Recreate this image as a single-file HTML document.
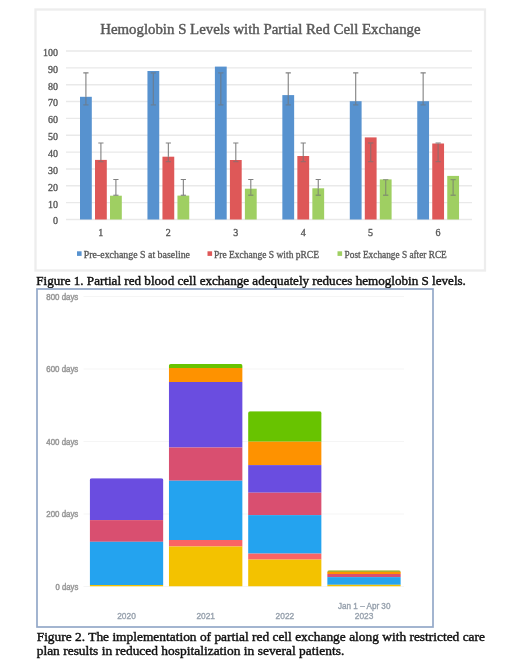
<!DOCTYPE html>
<html><head><meta charset="utf-8"><style>
html,body{margin:0;padding:0;background:#fff;}
body{width:520px;height:669px;overflow:hidden;font-family:"Liberation Serif",serif;}
svg{display:block;will-change:transform;}
</style></head><body>
<svg width="520" height="669" viewBox="0 0 520 669">
<rect x="35.5" y="9.5" width="449.5" height="261" fill="#fff" stroke="#ededed" stroke-width="2.3"/>
<text x="100.2" y="33.5" font-family="Liberation Serif" font-size="15" fill="#595959" stroke="#595959" stroke-width="0.45" textLength="320.4" lengthAdjust="spacingAndGlyphs">Hemoglobin S Levels with Partial Red Cell Exchange</text>
<line x1="66" x2="472" y1="219.5" y2="219.5" stroke="#e9e9e9" stroke-width="1.4"/>
<text x="58.1" y="224.4" font-family="Liberation Serif" font-size="10" fill="#595959" stroke="#595959" stroke-width="0.35" text-anchor="end">0</text>
<line x1="66" x2="472" y1="202.65" y2="202.65" stroke="#e9e9e9" stroke-width="1.4"/>
<text x="58.1" y="207.55" font-family="Liberation Serif" font-size="10" fill="#595959" stroke="#595959" stroke-width="0.35" text-anchor="end">10</text>
<line x1="66" x2="472" y1="185.8" y2="185.8" stroke="#e9e9e9" stroke-width="1.4"/>
<text x="58.1" y="190.7" font-family="Liberation Serif" font-size="10" fill="#595959" stroke="#595959" stroke-width="0.35" text-anchor="end">20</text>
<line x1="66" x2="472" y1="168.95" y2="168.95" stroke="#e9e9e9" stroke-width="1.4"/>
<text x="58.1" y="173.85" font-family="Liberation Serif" font-size="10" fill="#595959" stroke="#595959" stroke-width="0.35" text-anchor="end">30</text>
<line x1="66" x2="472" y1="152.1" y2="152.1" stroke="#e9e9e9" stroke-width="1.4"/>
<text x="58.1" y="157" font-family="Liberation Serif" font-size="10" fill="#595959" stroke="#595959" stroke-width="0.35" text-anchor="end">40</text>
<line x1="66" x2="472" y1="135.25" y2="135.25" stroke="#e9e9e9" stroke-width="1.4"/>
<text x="58.1" y="140.15" font-family="Liberation Serif" font-size="10" fill="#595959" stroke="#595959" stroke-width="0.35" text-anchor="end">50</text>
<line x1="66" x2="472" y1="118.4" y2="118.4" stroke="#e9e9e9" stroke-width="1.4"/>
<text x="58.1" y="123.3" font-family="Liberation Serif" font-size="10" fill="#595959" stroke="#595959" stroke-width="0.35" text-anchor="end">60</text>
<line x1="66" x2="472" y1="101.55" y2="101.55" stroke="#e9e9e9" stroke-width="1.4"/>
<text x="58.1" y="106.45" font-family="Liberation Serif" font-size="10" fill="#595959" stroke="#595959" stroke-width="0.35" text-anchor="end">70</text>
<line x1="66" x2="472" y1="84.7" y2="84.7" stroke="#e9e9e9" stroke-width="1.4"/>
<text x="58.1" y="89.6" font-family="Liberation Serif" font-size="10" fill="#595959" stroke="#595959" stroke-width="0.35" text-anchor="end">80</text>
<line x1="66" x2="472" y1="67.85" y2="67.85" stroke="#e9e9e9" stroke-width="1.4"/>
<text x="58.1" y="72.75" font-family="Liberation Serif" font-size="10" fill="#595959" stroke="#595959" stroke-width="0.35" text-anchor="end">90</text>
<line x1="66" x2="472" y1="51" y2="51" stroke="#e9e9e9" stroke-width="1.4"/>
<text x="58.1" y="55.9" font-family="Liberation Serif" font-size="10" fill="#595959" stroke="#595959" stroke-width="0.35" text-anchor="end">100</text>
<rect x="80" y="96.8" width="11.8" height="122.7" fill="#5792cf"/>
<rect x="95" y="159.9" width="11.8" height="59.6" fill="#de5858"/>
<rect x="110" y="195.7" width="11.8" height="23.8" fill="#9fcf62"/>
<rect x="147.45" y="71" width="11.8" height="148.5" fill="#5792cf"/>
<rect x="162.45" y="156.7" width="11.8" height="62.8" fill="#de5858"/>
<rect x="177.45" y="195.6" width="11.8" height="23.9" fill="#9fcf62"/>
<rect x="214.9" y="66.6" width="11.8" height="152.9" fill="#5792cf"/>
<rect x="229.9" y="160" width="11.8" height="59.5" fill="#de5858"/>
<rect x="244.9" y="188.7" width="11.8" height="30.8" fill="#9fcf62"/>
<rect x="282.35" y="95.1" width="11.8" height="124.4" fill="#5792cf"/>
<rect x="297.35" y="156" width="11.8" height="63.5" fill="#de5858"/>
<rect x="312.35" y="188.3" width="11.8" height="31.2" fill="#9fcf62"/>
<rect x="349.8" y="101.2" width="11.8" height="118.3" fill="#5792cf"/>
<rect x="364.8" y="137.4" width="11.8" height="82.1" fill="#de5858"/>
<rect x="379.8" y="179.4" width="11.8" height="40.1" fill="#9fcf62"/>
<rect x="417.25" y="101.2" width="11.8" height="118.3" fill="#5792cf"/>
<rect x="432.25" y="143.5" width="11.8" height="76" fill="#de5858"/>
<rect x="447.25" y="175.9" width="11.8" height="43.6" fill="#9fcf62"/>
<path d="M85.9 72.91V96.8M83.3 72.91H88.5" stroke="#737373" stroke-width="1.1" fill="none" opacity="0.9"/>
<path d="M85.9 96.8V104.92M83.3 104.92H88.5" stroke="#737373" stroke-width="1.3" fill="none" opacity="0.6"/>
<path d="M100.9 143V159.9M98.3 143H103.5" stroke="#737373" stroke-width="1.1" fill="none" opacity="0.9"/>
<path d="M100.9 159.9V161.54M98.3 161.54H103.5" stroke="#737373" stroke-width="1.3" fill="none" opacity="0.6"/>
<path d="M115.9 179.57V195.24M113.3 179.57H118.5" stroke="#737373" stroke-width="1.1" fill="none" opacity="0.9"/>
<path d="M113.3 195.24H118.5" stroke="#737373" stroke-width="1.1" fill="none" opacity="0.9"/>
<path d="M153.35 72.91V104.92M150.75 72.91H155.95M150.75 104.92H155.95" stroke="#737373" stroke-width="1.3" fill="none" opacity="0.6"/>
<path d="M168.35 143V156.7M165.75 143H170.95" stroke="#737373" stroke-width="1.1" fill="none" opacity="0.9"/>
<path d="M168.35 156.7V161.54M165.75 161.54H170.95" stroke="#737373" stroke-width="1.3" fill="none" opacity="0.6"/>
<path d="M183.35 179.57V195.24M180.75 179.57H185.95" stroke="#737373" stroke-width="1.1" fill="none" opacity="0.9"/>
<path d="M180.75 195.24H185.95" stroke="#737373" stroke-width="1.1" fill="none" opacity="0.9"/>
<path d="M220.8 72.91V104.92M218.2 72.91H223.4M218.2 104.92H223.4" stroke="#737373" stroke-width="1.3" fill="none" opacity="0.6"/>
<path d="M235.8 143V160M233.2 143H238.4" stroke="#737373" stroke-width="1.1" fill="none" opacity="0.9"/>
<path d="M235.8 160V161.54M233.2 161.54H238.4" stroke="#737373" stroke-width="1.3" fill="none" opacity="0.6"/>
<path d="M250.8 179.57V188.7M248.2 179.57H253.4" stroke="#737373" stroke-width="1.1" fill="none" opacity="0.9"/>
<path d="M250.8 188.7V195.24M248.2 195.24H253.4" stroke="#737373" stroke-width="1.3" fill="none" opacity="0.6"/>
<path d="M288.25 72.91V95.1M285.65 72.91H290.85" stroke="#737373" stroke-width="1.1" fill="none" opacity="0.9"/>
<path d="M288.25 95.1V104.92M285.65 104.92H290.85" stroke="#737373" stroke-width="1.3" fill="none" opacity="0.6"/>
<path d="M303.25 143V156M300.65 143H305.85" stroke="#737373" stroke-width="1.1" fill="none" opacity="0.9"/>
<path d="M303.25 156V161.54M300.65 161.54H305.85" stroke="#737373" stroke-width="1.3" fill="none" opacity="0.6"/>
<path d="M318.25 179.57V188.3M315.65 179.57H320.85" stroke="#737373" stroke-width="1.1" fill="none" opacity="0.9"/>
<path d="M318.25 188.3V195.24M315.65 195.24H320.85" stroke="#737373" stroke-width="1.3" fill="none" opacity="0.6"/>
<path d="M355.7 72.91V101.2M353.1 72.91H358.3" stroke="#737373" stroke-width="1.1" fill="none" opacity="0.9"/>
<path d="M355.7 101.2V104.92M353.1 104.92H358.3" stroke="#737373" stroke-width="1.3" fill="none" opacity="0.6"/>
<path d="M370.7 143V161.54M368.1 143H373.3M368.1 161.54H373.3" stroke="#737373" stroke-width="1.3" fill="none" opacity="0.6"/>
<path d="M385.7 179.57V195.24M383.1 179.57H388.3M383.1 195.24H388.3" stroke="#737373" stroke-width="1.3" fill="none" opacity="0.6"/>
<path d="M423.15 72.91V101.2M420.55 72.91H425.75" stroke="#737373" stroke-width="1.1" fill="none" opacity="0.9"/>
<path d="M423.15 101.2V104.92M420.55 104.92H425.75" stroke="#737373" stroke-width="1.3" fill="none" opacity="0.6"/>
<path d="M438.15 143V143.5M435.55 143H440.75" stroke="#737373" stroke-width="1.1" fill="none" opacity="0.9"/>
<path d="M438.15 143.5V161.54M435.55 161.54H440.75" stroke="#737373" stroke-width="1.3" fill="none" opacity="0.6"/>
<path d="M453.15 179.57V195.24M450.55 179.57H455.75M450.55 195.24H455.75" stroke="#737373" stroke-width="1.3" fill="none" opacity="0.6"/>
<text x="100.78" y="235.5" font-family="Liberation Serif" font-size="10" fill="#595959" stroke="#595959" stroke-width="0.35" text-anchor="middle">1</text>
<text x="168.24" y="235.5" font-family="Liberation Serif" font-size="10" fill="#595959" stroke="#595959" stroke-width="0.35" text-anchor="middle">2</text>
<text x="235.69" y="235.5" font-family="Liberation Serif" font-size="10" fill="#595959" stroke="#595959" stroke-width="0.35" text-anchor="middle">3</text>
<text x="303.13" y="235.5" font-family="Liberation Serif" font-size="10" fill="#595959" stroke="#595959" stroke-width="0.35" text-anchor="middle">4</text>
<text x="370.59" y="235.5" font-family="Liberation Serif" font-size="10" fill="#595959" stroke="#595959" stroke-width="0.35" text-anchor="middle">5</text>
<text x="438.04" y="235.5" font-family="Liberation Serif" font-size="10" fill="#595959" stroke="#595959" stroke-width="0.35" text-anchor="middle">6</text>
<rect x="77" y="251.3" width="4.6" height="4.6" fill="#5792cf"/>
<text x="83.8" y="257.5" font-family="Liberation Serif" font-size="9.4" fill="#595959" stroke="#595959" stroke-width="0.3" textLength="106.2" lengthAdjust="spacingAndGlyphs">Pre-exchange S at baseline</text>
<rect x="207.5" y="251.3" width="4.6" height="4.6" fill="#de5858"/>
<text x="214" y="257.5" font-family="Liberation Serif" font-size="9.4" fill="#595959" stroke="#595959" stroke-width="0.3" textLength="105" lengthAdjust="spacingAndGlyphs">Pre Exchange S with pRCE</text>
<rect x="337.5" y="251.3" width="4.6" height="4.6" fill="#9fcf62"/>
<text x="344.6" y="257.5" font-family="Liberation Serif" font-size="9.4" fill="#595959" stroke="#595959" stroke-width="0.3" textLength="102.2" lengthAdjust="spacingAndGlyphs">Post Exchange S after RCE</text>
<text x="36.3" y="284.5" font-family="Liberation Serif" font-size="12.2" fill="#111" stroke="#111" stroke-width="0.4" textLength="429.6" lengthAdjust="spacingAndGlyphs">Figure 1. Partial red blood cell exchange adequately reduces hemoglobin S levels.</text>
<rect x="37" y="289" width="396" height="338" fill="#fff" stroke="#93a8c8" stroke-width="1.7"/>
<line x1="83.5" x2="404" y1="586.5" y2="586.5" stroke="#f3f3f3" stroke-width="0.8"/>
<text x="78.3" y="590.1" font-family="Liberation Sans" font-size="8.3" fill="#9a9a9a" stroke="#9a9a9a" stroke-width="0.5" text-anchor="end" textLength="22.7" lengthAdjust="spacingAndGlyphs">0 days</text>
<line x1="83.5" x2="404" y1="514" y2="514" stroke="#f3f3f3" stroke-width="0.8"/>
<text x="78.3" y="517.48" font-family="Liberation Sans" font-size="8.3" fill="#9a9a9a" stroke="#9a9a9a" stroke-width="0.5" text-anchor="end" textLength="32" lengthAdjust="spacingAndGlyphs">200 days</text>
<line x1="83.5" x2="404" y1="441.5" y2="441.5" stroke="#f3f3f3" stroke-width="0.8"/>
<text x="78.3" y="444.86" font-family="Liberation Sans" font-size="8.3" fill="#9a9a9a" stroke="#9a9a9a" stroke-width="0.5" text-anchor="end" textLength="32" lengthAdjust="spacingAndGlyphs">400 days</text>
<line x1="83.5" x2="404" y1="369" y2="369" stroke="#f3f3f3" stroke-width="0.8"/>
<text x="78.3" y="372.24" font-family="Liberation Sans" font-size="8.3" fill="#9a9a9a" stroke="#9a9a9a" stroke-width="0.5" text-anchor="end" textLength="32" lengthAdjust="spacingAndGlyphs">600 days</text>
<line x1="83.5" x2="404" y1="296.5" y2="296.5" stroke="#f3f3f3" stroke-width="0.8"/>
<text x="78.3" y="299.62" font-family="Liberation Sans" font-size="8.3" fill="#9a9a9a" stroke="#9a9a9a" stroke-width="0.5" text-anchor="end" textLength="32" lengthAdjust="spacingAndGlyphs">800 days</text>
<clipPath id="c89"><rect x="89.7" y="478.2" width="73.7" height="108.3" rx="2" ry="2"/><rect x="89.7" y="481.2" width="73.7" height="105.3"/></clipPath>
<g clip-path="url(#c89)"><rect x="89.7" y="478.2" width="73.7" height="41.9" fill="#6a4de0"/><rect x="89.7" y="520.1" width="73.7" height="21.7" fill="#d94f70"/><rect x="89.7" y="541.8" width="73.7" height="43.2" fill="#24a3ef"/><rect x="89.7" y="585" width="73.7" height="1.5" fill="#f3c200"/></g>
<clipPath id="c168"><rect x="168.8" y="364" width="73.8" height="222.5" rx="2" ry="2"/><rect x="168.8" y="367" width="73.8" height="219.5"/></clipPath>
<g clip-path="url(#c168)"><rect x="168.8" y="364" width="73.8" height="4" fill="#68c300"/><rect x="168.8" y="368" width="73.8" height="14" fill="#fe9200"/><rect x="168.8" y="382" width="73.8" height="65.5" fill="#6a4de0"/><rect x="168.8" y="447.5" width="73.8" height="33.2" fill="#d94f70"/><rect x="168.8" y="480.7" width="73.8" height="59.3" fill="#24a3ef"/><rect x="168.8" y="540" width="73.8" height="6.5" fill="#fa6464"/><rect x="168.8" y="546.5" width="73.8" height="40" fill="#f3c200"/></g>
<clipPath id="c248"><rect x="248.1" y="411.2" width="73.5" height="175.3" rx="2" ry="2"/><rect x="248.1" y="414.2" width="73.5" height="172.3"/></clipPath>
<g clip-path="url(#c248)"><rect x="248.1" y="411.2" width="73.5" height="30.5" fill="#68c300"/><rect x="248.1" y="441.7" width="73.5" height="23.4" fill="#fe9200"/><rect x="248.1" y="465.1" width="73.5" height="27.6" fill="#6a4de0"/><rect x="248.1" y="492.7" width="73.5" height="22.4" fill="#d94f70"/><rect x="248.1" y="515.1" width="73.5" height="38.5" fill="#24a3ef"/><rect x="248.1" y="553.6" width="73.5" height="6" fill="#fa6464"/><rect x="248.1" y="559.6" width="73.5" height="26.9" fill="#f3c200"/></g>
<clipPath id="c327"><rect x="327.2" y="570.2" width="73.6" height="16.3" rx="2" ry="2"/><rect x="327.2" y="573.2" width="73.6" height="13.3"/></clipPath>
<g clip-path="url(#c327)"><rect x="327.2" y="570.2" width="73.6" height="1.8" fill="#a8b030"/><rect x="327.2" y="572" width="73.6" height="2" fill="#fe9200"/><rect x="327.2" y="574" width="73.6" height="3.1" fill="#d94f70"/><rect x="327.2" y="577.1" width="73.6" height="7.7" fill="#24a3ef"/><rect x="327.2" y="584.8" width="73.6" height="1.7" fill="#f3c200"/></g>
<text x="126.5" y="618.7" font-family="Liberation Sans" font-size="8.4" fill="#97a1ad" stroke="#97a1ad" stroke-width="0.35" text-anchor="middle">2020</text>
<text x="205.7" y="618.7" font-family="Liberation Sans" font-size="8.4" fill="#97a1ad" stroke="#97a1ad" stroke-width="0.35" text-anchor="middle">2021</text>
<text x="284.9" y="618.7" font-family="Liberation Sans" font-size="8.4" fill="#97a1ad" stroke="#97a1ad" stroke-width="0.35" text-anchor="middle">2022</text>
<text x="364.2" y="608.9" font-family="Liberation Sans" font-size="8.4" fill="#97a1ad" stroke="#97a1ad" stroke-width="0.35" text-anchor="middle" textLength="52.4" lengthAdjust="spacingAndGlyphs">Jan 1 – Apr 30</text>
<text x="364.1" y="618.8" font-family="Liberation Sans" font-size="8.4" fill="#97a1ad" stroke="#97a1ad" stroke-width="0.35" text-anchor="middle">2023</text>
<text x="36.7" y="640.7" font-family="Liberation Serif" font-size="12.2" fill="#111" stroke="#111" stroke-width="0.4" textLength="448.3" lengthAdjust="spacingAndGlyphs">Figure 2. The implementation of partial red cell exchange along with restricted care</text>
<text x="36.7" y="655" font-family="Liberation Serif" font-size="12.2" fill="#111" stroke="#111" stroke-width="0.4" textLength="307.6" lengthAdjust="spacingAndGlyphs">plan results in reduced hospitalization in several patients.</text>
</svg>
</body></html>
